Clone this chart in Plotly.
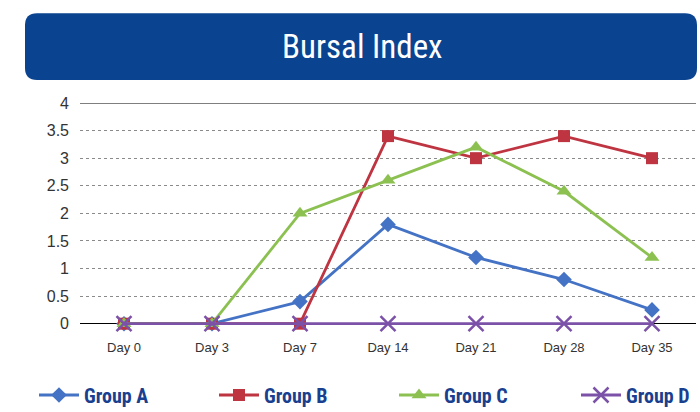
import plotly.graph_objects as go

days = ["Day 0", "Day 3", "Day 7", "Day 14", "Day 21", "Day 28", "Day 35"]
group_a = [0, 0, 0.4, 1.8, 1.2, 0.8, 0.25]
group_b = [0, 0, 0, 3.4, 3.0, 3.4, 3.0]
group_c = [0, 0, 2.0, 2.6, 3.2, 2.4, 1.2]
group_d = [0, 0, 0, 0, 0, 0, 0]
y_ticks = [0, 0.5, 1, 1.5, 2, 2.5, 3, 3.5, 4]
y_labels = ["0", "0.5", "1", "1.5", "2", "2.5", "3", "3.5", "4"]

W, H = 700, 412
YMIN, YMAX = -0.06, 4.0
TOP_PX, ZERO_PX = 103, 324
UNIT = (ZERO_PX - TOP_PX) / YMAX
L, R, T = 80, 4, TOP_PX
B = H - (ZERO_PX - YMIN * UNIT)
PW, PH = W - L - R, H - T - B

FONT = "Liberation Sans Narrow, Arial Narrow, Roboto Condensed, Liberation Sans, sans-serif"
TICKFONT = "Liberation Sans, Arial, sans-serif"

def px(x):
    return (x - L) / PW

def py(y):
    return (H - B - y) / PH

fig = go.Figure()
series = [
    ("Group A", group_a, "#4472c4", "diamond", 12, 0, "legend", 34),
    ("Group B", group_b, "#be3441", "square", 12, 0, "legend2", 214),
    ("Group C", group_c, "#8cc152", "triangle-up", 13, 0, "legend3", 394),
    ("Group D", group_d, "#7b52a8", "x-thin", 15, 2.5, "legend4", 576),
]
legends = {}
for name, vals, col, sym, sz, lw, lg, lx in series:
    fig.add_trace(go.Scatter(
        x=days, y=vals, name=name, mode="lines+markers", legend=lg,
        cliponaxis=False,
        line=dict(color=col, width=2.8),
        marker=dict(symbol=sym, size=sz, color=col,
                    line=dict(color=col, width=lw)),
    ))
    legends[lg] = dict(xref="container", yref="container",
                       x=lx / W, y=(H - 395) / H, xanchor="left", yanchor="middle",
                       bgcolor="rgba(0,0,0,0)", itemwidth=40,
                       font=dict(family=FONT, size=20, color="#1a3f8f", weight="bold"))

# rounded title box
x0, x1, y0, y1, r = 25, 697, 13, 80, 12
path = (
    f"M {px(x0 + r)},{py(y0)} L {px(x1 - r)},{py(y0)} "
    f"Q {px(x1)},{py(y0)} {px(x1)},{py(y0 + r)} "
    f"L {px(x1)},{py(y1 - r)} Q {px(x1)},{py(y1)} {px(x1 - r)},{py(y1)} "
    f"L {px(x0 + r)},{py(y1)} Q {px(x0)},{py(y1)} {px(x0)},{py(y1 - r)} "
    f"L {px(x0)},{py(y0 + r)} Q {px(x0)},{py(y0)} {px(x0 + r)},{py(y0)} Z"
)
fig.add_shape(type="path", path=path, xref="paper", yref="paper",
              fillcolor="#0a438f", line=dict(width=0), layer="below")
fig.add_annotation(text="Bursal Index", x=px(362), y=py(46), xref="paper", yref="paper",
                   xanchor="center", yanchor="middle",
                   showarrow=False, font=dict(family=FONT, size=33, color="white"))
# top solid line at 4
fig.add_shape(type="line", xref="paper", yref="y", x0=0, x1=1, y0=4, y1=4,
              line=dict(color="black", width=1.2))

fig.update_layout(
    width=W, height=H,
    margin=dict(l=L, r=R, t=T, b=B, autoexpand=False),
    paper_bgcolor="white", plot_bgcolor="white",
    font=dict(family=TICKFONT, color="#333333"),
    showlegend=True,
    **legends,
)
fig.update_xaxes(range=[-0.5, 6.5], showgrid=False, showline=False, ticks="",
                 tickfont=dict(size=13, color="#333333"),
                 ticklabelstandoff=11, automargin=False)
fig.update_yaxes(range=[YMIN, YMAX], tickvals=y_ticks, ticktext=y_labels,
                 showgrid=True, gridcolor="#8a8a8a", griddash="dot", gridwidth=1,
                 zeroline=True, zerolinecolor="black", zerolinewidth=1.2,
                 showline=False, tickfont=dict(size=16, color="#333333"),
                 ticklabelstandoff=10, automargin=False)

fig.write_html("out.html", config={"displayModeBar": False},
               post_script="document.body.style.margin='0';")
